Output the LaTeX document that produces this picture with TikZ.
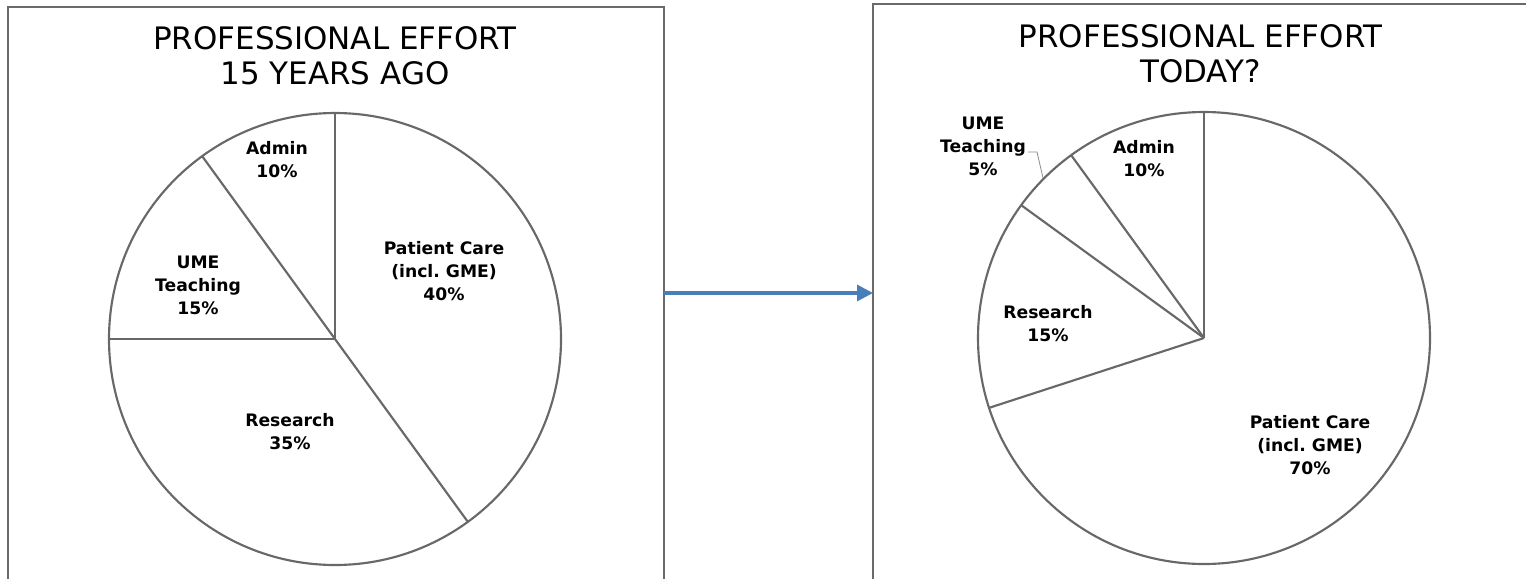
\documentclass[tikz,border=0pt]{standalone}
\usepackage{fontspec}
\setmainfont{DejaVu Sans}
\frenchspacing
\usetikzlibrary{arrows.meta}
\definecolor{framegray}{HTML}{6A6A6A}
\definecolor{piegray}{HTML}{686868}
\definecolor{leadergray}{HTML}{8C8C8C}
\definecolor{arrowblue}{HTML}{4A7EBB}
\tikzset{
  panel/.style={draw=framegray, line width=1.2pt},
  wedge/.style={draw=piegray, line width=1.6pt},
  titletext/.style={font=\fontsize{23.2}{26.25}\selectfont, align=center, inner sep=0pt, text=black},
  slicelabel/.style={font=\fontsize{12.9}{17.25}\selectfont\bfseries, align=center, inner sep=0pt, text=black},
  leader/.style={draw=leadergray, line width=0.6pt},
  flow/.style={draw=arrowblue, line width=2.5pt, -{Triangle[length=12pt, width=12pt]}}
}
\begin{document}
\begin{tikzpicture}[x=0.75pt, y=0.75pt]
  \useasboundingbox[fill=white] (0,0) rectangle (1526,-579);

  % panel frames (open at the bottom / right edge of the page)
  \draw[panel] (8,-579) -- (8,-7) -- (664,-7) -- (664,-579);
  \draw[panel] (873,-579) -- (873,-4) -- (1526,-4);

  % ---------- left pie: 15 years ago ----------
  \coordinate (lc) at (335,-339);
  \node[titletext] (ltitle) at (335,-56.2) {PROFESSIONAL EFFORT\\15 YEARS AGO};
  \draw[wedge] (lc) circle[radius=226];
  \draw[wedge] (lc) -- ++(90:226);
  \draw[wedge] (lc) -- ++(-54:226);
  \draw[wedge] (lc) -- ++(180:226);
  \draw[wedge] (lc) -- ++(126:226);
  \node[slicelabel] (ladmin) at (277,-159.5) {Admin\\10\%};
  \node[slicelabel] (lume) at (198,-285) {UME\\Teaching\\15\%};
  \node[slicelabel] (lcare) at (444,-271) {Patient Care\\(incl. GME)\\40\%};
  \node[slicelabel] (lres) at (290,-431.5) {Research\\35\%};

  % ---------- right pie: today ----------
  \coordinate (rc) at (1204,-338);
  \node[titletext] (rtitle) at (1200.5,-53.7) {PROFESSIONAL EFFORT\\TODAY?};
  \draw[wedge] (rc) circle[radius=226];
  \draw[wedge] (rc) -- ++(90:226);
  \draw[wedge] (rc) -- ++(198:226);
  \draw[wedge] (rc) -- ++(144:226);
  \draw[wedge] (rc) -- ++(126:226);
  \node[slicelabel] (radmin) at (1144,-158.5) {Admin\\10\%};
  \node[slicelabel] (rume) at (983,-146.5) {UME\\Teaching\\5\%};
  \node[slicelabel] (rres) at (1048,-323.5) {Research\\15\%};
  \node[slicelabel] (rcare) at (1310,-445) {Patient Care\\(incl. GME)\\70\%};

  % leader from the small slice label to its wedge
  \coordinate (umeknee) at (1037,-152);
  \coordinate (umetip) at (1043,-178);
  \draw[leader] (rume.east |- umeknee) ++(2,0) -- (umeknee) -- (umetip);

  % transition arrow between the two panels
  \coordinate (arrowstart) at (664,-293);
  \coordinate (arrowend) at (873,-293);
  \draw[flow] (arrowstart) -- (arrowend);
\end{tikzpicture}
\end{document}
